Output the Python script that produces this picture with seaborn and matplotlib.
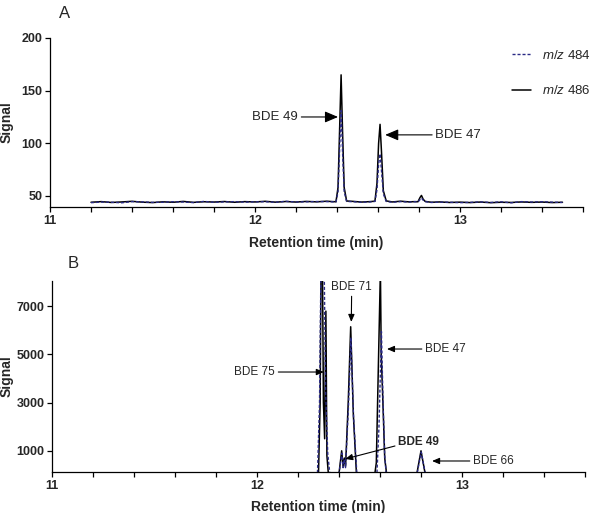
import pandas as pd
import matplotlib
matplotlib.use("Agg")
import matplotlib.pyplot as plt
from matplotlib.ticker import MultipleLocator
import seaborn as sns

# --------------------------
# Panel A: standard, m/z 484 / 486 traces
# --------------------------
a_time = [11.20, 11.25, 11.30, 11.35, 11.40, 11.45, 11.50, 11.55, 11.60, 11.65,
          11.70, 11.75, 11.80, 11.85, 11.90, 11.95, 12.00, 12.05, 12.10, 12.15,
          12.20, 12.25, 12.30, 12.35,
          12.38, 12.395, 12.405, 12.413, 12.420, 12.427, 12.435, 12.447,
          12.48, 12.52, 12.56,
          12.585, 12.595, 12.603, 12.610, 12.617, 12.626, 12.64,
          12.67, 12.71, 12.75, 12.78,
          12.795, 12.805, 12.812, 12.82, 12.83,
          12.86, 12.90,
          12.95, 13.00, 13.05, 13.10, 13.15, 13.20, 13.25, 13.30, 13.35, 13.40,
          13.45, 13.50]
a_486 = [44.0, 44.6, 43.8, 44.3, 44.9, 44.1, 43.7, 44.4, 44.0, 44.8,
         43.9, 44.5, 44.2, 44.7, 44.0, 44.6, 44.3, 44.9, 44.1, 44.7,
         44.2, 44.8, 44.4, 45.0,
         44.6, 44.5, 58, 115, 165, 112, 58, 45.2,
         44.8, 44.2, 44.6,
         45.0, 62, 100, 118, 92, 55, 45.3,
         44.3, 45.0, 44.4, 44.6,
         44.5, 48.5, 50.5, 47.0, 44.8,
         44.0, 44.3,
         43.8, 44.1, 43.7, 44.2, 43.6, 44.0, 43.8, 44.3, 43.9, 44.2,
         43.7, 44.0]
a_484 = [43.6, 44.2, 44.0, 43.5, 44.6, 44.3, 43.9, 44.0, 44.5, 44.2,
         43.7, 44.8, 44.0, 44.3, 44.6, 44.1, 44.4, 44.5, 44.0, 44.9,
         44.3, 44.4, 44.7, 44.6,
         44.4, 44.3, 54, 95, 131, 92, 54, 44.8,
         44.5, 44.0, 44.3,
         44.8, 56, 80, 90, 74, 52, 44.8,
         44.0, 44.6, 44.2, 44.5,
         44.3, 46.5, 48.0, 46.0, 44.6,
         43.8, 44.1,
         44.0, 43.6, 43.9, 44.3, 43.8, 44.4, 43.5, 44.6, 44.2, 44.5,
         44.1, 43.8]

# --------------------------
# Panel B: sample, m/z 484 / 486 traces
# --------------------------
b_time_486 = [11.20, 12.29, 12.300, 12.308, 12.316, 12.324, 12.330, 12.336, 12.341, 12.348,
              12.40, 12.413, 12.420, 12.426, 12.432, 12.445, 12.457, 12.470, 12.485,
              12.575, 12.582, 12.602, 12.606, 12.615, 12.623, 12.632,
              12.78, 12.800, 12.82, 13.50]
b_486 = [60, 60, 60, 3000, 13000, 3000, 1500, 6800, 800, 60,
         60, 1000, 350, 700, 350, 3000, 6150, 2500, 60,
         60, 500, 8500, 5000, 2800, 700, 60,
         60, 1000, 60, 60]
b_time_484 = [11.20, 12.29, 12.295, 12.305, 12.315, 12.327, 12.335, 12.345, 12.355,
              12.40, 12.414, 12.420, 12.426, 12.432, 12.446, 12.458, 12.471, 12.487,
              12.585, 12.595, 12.607, 12.615, 12.623, 12.630,
              12.781, 12.801, 12.821, 13.50]
b_484 = [60, 60, 60, 3000, 11000, 9000, 3400, 900, 60,
         60, 900, 300, 650, 300, 2800, 5700, 2400, 60,
         60, 2000, 5950, 3000, 800, 60,
         60, 950, 60, 60]

ion_labels = [r"$\it{m/z}$ 484", r"$\it{m/z}$ 486"]
x_major = [11, 12, 13]
a_yticks = [50, 100, 150, 200]
b_yticks = [1000, 3000, 5000, 7000]

BLUE = "#2a2a85"


def make_frame(times, values):
    return pd.DataFrame({"time": times, "signal": values})


def style_axis(ax, ylim, yticks, xlab_y, ylab_x):
    ax.set_xlim(11, 13.6)
    ax.set_ylim(*ylim)
    ax.set_xticks(x_major)
    ax.xaxis.set_minor_locator(MultipleLocator(0.2))
    ax.set_yticks(yticks)
    sns.despine(ax=ax)
    for side in ("left", "bottom"):
        ax.spines[side].set_linewidth(0.9)
        ax.spines[side].set_color("k")
    ax.tick_params(which="both", direction="out", length=3.5, width=0.9,
                   color="k", labelsize=9, pad=2)
    for lab in ax.get_xticklabels() + ax.get_yticklabels():
        lab.set_fontweight("bold")
    ax.set_xlabel("Retention time (min)", fontsize=10, fontweight="bold")
    ax.set_ylabel("Signal", fontsize=10, fontweight="bold")
    ax.xaxis.set_label_coords(0.5, xlab_y)
    ax.yaxis.set_label_coords(ylab_x, 0.5)


def arrow_label(ax, text, tip, start, ha, size, scale, weight="normal"):
    ax.annotate(text, xy=tip, xytext=start, ha=ha, va="center",
                fontsize=size, fontweight=weight,
                arrowprops=dict(arrowstyle="-|>,head_length=0.4,head_width=0.17",
                                color="k", lw=0.8, shrinkA=0, shrinkB=0,
                                mutation_scale=scale))


sns.set_style("ticks")
plt.rcParams["font.family"] = ["Liberation Sans", "DejaVu Sans"]
plt.rcParams["mathtext.fontset"] = "custom"
plt.rcParams["mathtext.it"] = "Liberation Sans:italic"
plt.rcParams["mathtext.rm"] = "Liberation Sans"

fig = plt.figure(figsize=(6, 5.13), dpi=100)
ax_a = fig.add_axes([50 / 600, 1 - 207 / 513, 533 / 600, 169 / 513])
ax_b = fig.add_axes([52 / 600, 1 - 472 / 513, 533 / 600, 191 / 513])

# panel A
sns.lineplot(data=make_frame(a_time, a_486), x="time", y="signal", ax=ax_a,
             color="k", lw=1.1, estimator=None)
sns.lineplot(data=make_frame(a_time, a_484), x="time", y="signal", ax=ax_a,
             color=BLUE, lw=1.0, estimator=None)
ax_a.lines[1].set_dashes((2.2, 1.4))
style_axis(ax_a, (39.5, 200), a_yticks, -0.17, -0.069)

arrow_label(ax_a, "BDE 49", (12.405, 125), (12.21, 125), "right", 9.5, 20)
arrow_label(ax_a, "BDE 47", (12.635, 108), (12.88, 108), "left", 9.5, 20)

ax_a.legend(handles=[ax_a.lines[1], ax_a.lines[0]], labels=ion_labels,
            loc="upper left", bbox_to_anchor=(512 / 600, 1 - 49 / 513),
            bbox_transform=fig.transFigure, frameon=False, fontsize=9.5,
            handlelength=1.45, handletextpad=0.8, labelspacing=1.7,
            borderpad=0, borderaxespad=0)

# panel B
sns.lineplot(data=make_frame(b_time_486, b_486), x="time", y="signal", ax=ax_b,
             color="k", lw=1.1, estimator=None)
sns.lineplot(data=make_frame(b_time_484, b_484), x="time", y="signal", ax=ax_b,
             color=BLUE, lw=1.0, estimator=None)
ax_b.lines[1].set_dashes((2.2, 1.4))
style_axis(ax_b, (120, 8050), b_yticks, -0.145, -0.072)

arrow_label(ax_b, "BDE 71", (12.46, 6350), (12.462, 7800), "center", 8.5, 11)
arrow_label(ax_b, "BDE 47", (12.634, 5226), (12.82, 5226), "left", 8.5, 11)
arrow_label(ax_b, "BDE 75", (12.326, 4271), (12.088, 4271), "right", 8.5, 11)
arrow_label(ax_b, "BDE 66", (12.854, 577), (13.054, 577), "left", 8.5, 11)
ax_b.annotate("", xy=(12.43, 660), xytext=(12.673, 1200),
              arrowprops=dict(arrowstyle="-|>,head_length=0.4,head_width=0.17",
                              color="k", lw=0.8, shrinkA=0, shrinkB=0,
                              mutation_scale=11))
ax_b.text(12.688, 1365, "BDE 49", ha="left", va="center", fontsize=8.5,
          fontweight="bold")

fig.text(65 / 600, 1 - 13 / 513, "A", fontsize=12, ha="center", va="center")
fig.text(73 / 600, 1 - 263 / 513, "B", fontsize=12, ha="center", va="center")

fig.savefig("out.png", dpi=100)
